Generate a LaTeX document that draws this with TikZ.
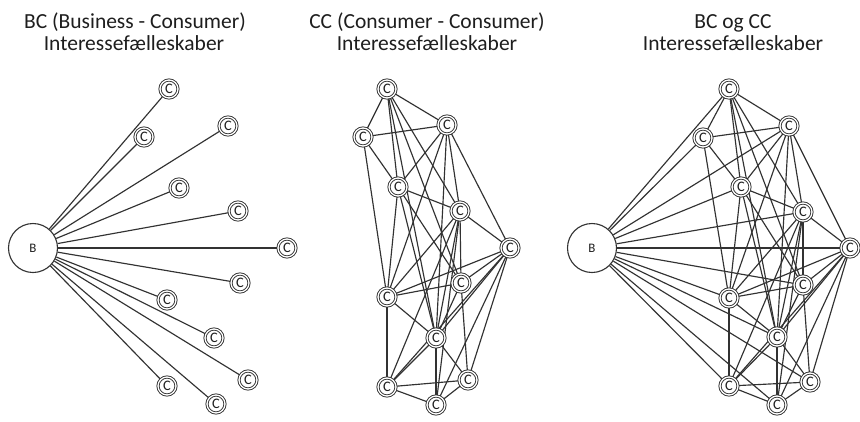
\documentclass[tikz,border=0pt]{standalone}
\usepackage{fontspec}
\setmainfont{Carlito}
\definecolor{linec}{RGB}{50,50,50}
\definecolor{textc}{RGB}{30,30,30}
\pgfdeclarelayer{bg}
\pgfsetlayers{bg,main}
\begin{document}
\begin{tikzpicture}[x=1pt,y=-1pt,
  edge/.style={draw=linec, line width=1.15pt},
  cnode/.style={circle, draw=linec, line width=0.9pt, double=white, double distance=1.3pt,
    minimum size=18pt, inner sep=0pt, fill=white, text=textc,
    font=\fontsize{14.5}{14.5}\selectfont},
  bnode/.style={circle, draw=linec, line width=1.1pt, minimum size=49pt, inner sep=0pt,
    fill=white, text=textc, font=\fontsize{13}{13}\selectfont},
  ttl/.style={anchor=base, text=textc, font=\fontsize{21.5}{22}\selectfont}]
\useasboundingbox (0,0) rectangle (860,421);

% titles
\node[ttl] (t1a) at (135,28) {BC (Business - Consumer)};
\node[ttl] (t1b) at (134,50) {Interessefælleskaber};
\node[ttl] (t2a) at (427,28) {CC (Consumer - Consumer)};
\node[ttl] (t2b) at (427,50) {Interessefælleskaber};
\node[ttl] (t3a) at (733,28) {BC og CC};
\node[ttl] (t3b) at (733,50) {Interessefælleskaber};

% left panel
\node[bnode] (lB) at (33,248) {B};
\foreach \i/\x/\y in {1/169/89,2/144/137,3/228/126,4/179/188,5/238/211,6/287/248,
  7/240/283,8/167/300,9/214/338,10/248/380,11/167/386,12/216/404}
  \node[cnode] (l\i) at (\x,\y) {C};

% middle panel
\foreach \i/\x/\y in {1/387/89,2/363/137,3/447/125,4/398/187,5/460/211,6/510/248,
  7/461/283,8/387/297,9/436/338,10/468/380,11/387/387,12/436/405}
  \node[cnode] (m\i) at (\x,\y) {C};

% right panel
\node[bnode] (rB) at (592,248) {B};
\foreach \i/\x/\y in {1/729/89,2/703/138,3/789/126,4/741/187,5/803/212,6/850/248,
  7/803/285,8/729/298,9/777/337,10/810/382,11/729/386,12/777/405}
  \node[cnode] (r\i) at (\x,\y) {C};

\begin{pgfonlayer}{bg}
  \fill[white] (0,0) rectangle (860,421);
  \foreach \i in {1,...,12} {
    \draw[edge] (lB) -- (l\i);
    \draw[edge] (rB) -- (r\i);
  }
  \foreach \a/\b in {1/2,1/3,1/4,1/5,1/7,1/9,
    2/3,2/4,2/8,
    3/4,3/5,3/6,3/9,3/8,
    4/5,4/8,4/9,4/7,
    5/6,5/7,5/8,5/9,5/11,5/12,
    6/7,6/8,6/9,6/10,6/11,6/12,
    7/8,7/9,7/10,
    8/9,8/11,
    9/10,9/11,9/12,
    10/11,10/12,11/12} {
    \draw[edge] (m\a) -- (m\b);
    \draw[edge] (r\a) -- (r\b);
  }
\end{pgfonlayer}
\end{tikzpicture}
\end{document}
